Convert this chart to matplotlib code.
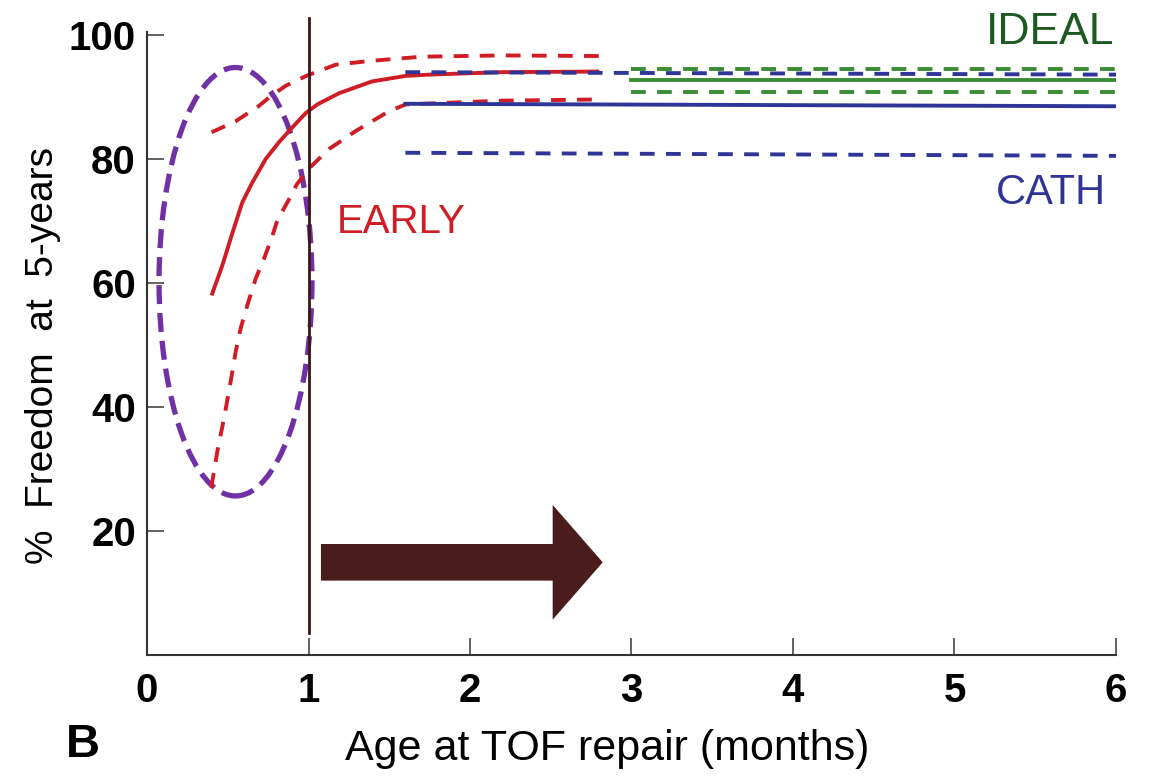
import matplotlib
matplotlib.use("Agg")
import matplotlib.pyplot as plt
from matplotlib.patches import Ellipse, FancyArrow

plt.rcParams['font.family'] = ['Liberation Sans', 'DejaVu Sans']

# ---- data ----
early_x = [0.40, 0.466, 0.528, 0.59, 0.652, 0.735, 0.817, 0.90, 0.983, 1.055, 1.189, 1.393, 1.602, 1.746, 2.2, 2.8]
early_y = [58.0, 62.8, 68.0, 73.0, 76.2, 80.0, 82.7, 85.1, 87.4, 88.8, 90.6, 92.5, 93.4, 93.6, 94.0, 94.1]
early_hi_x = [0.40, 0.55, 0.69, 0.77, 0.859, 0.986, 1.168, 1.375, 1.705, 2.2, 2.8]
early_hi_y = [84.3, 86.1, 88.5, 90.2, 91.8, 93.4, 95.2, 95.8, 96.5, 96.7, 96.6]
early_lo_x = [0.398, 0.436, 0.477, 0.518, 0.549, 0.58, 0.621, 0.673, 0.724, 0.77, 0.807, 0.869, 0.93, 1.02,
              1.127, 1.292, 1.498, 1.602, 2.2, 2.8]
early_lo_y = [27.0, 32.9, 38.2, 44.1, 48.9, 52.7, 56.4, 60.7, 63.9, 67.1, 70.1, 73.0, 76.0, 78.9,
              81.6, 84.5, 87.7, 88.8, 89.4, 89.6]

cath_x = [1.6, 6.0]
cath_y = [88.9, 88.5]
cath_hi_y = [94.0, 93.6]
cath_lo_y = [81.0, 80.5]

ideal_x = [3.0, 6.0]
ideal_y = [92.8, 92.8]
ideal_hi_y = [94.5, 94.5]
ideal_lo_y = [90.8, 90.8]

xticks = [0, 1, 2, 3, 4, 5, 6]
yticks = [20, 40, 60, 80, 100]

red = '#d01c24'
blue = '#2f3596'
green = '#3a8c35'
purple = '#7130a3'
brown = '#3d1616'

fig = plt.figure(figsize=(11.53, 7.77), dpi=100)
ax = fig.add_axes([0.1275, 0.157, 0.8404, 0.802])

lw = 2.8
dash = (0, (3.8, 2.9))
ax.plot(early_x, early_y, color=red, lw=lw, solid_capstyle='butt')
ax.plot(early_hi_x, early_hi_y, color=red, lw=lw, linestyle=dash)
ax.plot(early_lo_x, early_lo_y, color=red, lw=lw, linestyle=dash)

ax.plot(cath_x, cath_y, color=blue, lw=lw)
ax.plot(cath_x, cath_hi_y, color=blue, lw=lw, linestyle=dash)
ax.plot(cath_x, cath_lo_y, color=blue, lw=lw, linestyle=dash)

ax.plot(ideal_x, ideal_y, color=green, lw=lw)
ax.plot(ideal_x, ideal_hi_y, color=green, lw=lw, linestyle=dash)
ax.plot(ideal_x, ideal_lo_y, color=green, lw=lw, linestyle=dash)

# vertical marker at 1 month
ax.plot([1, 1], [3.6, 102.8], color=brown, lw=2.0, clip_on=False)

# ellipse
ell = Ellipse((0.548, 60.2), 0.947, 69.1, fill=False, edgecolor=purple,
              lw=3.8, linestyle=(0, (3.6, 1.7)))
ax.add_patch(ell)

# arrow
arr = FancyArrow(1.077, 14.95, 1.745, 0, width=5.9, head_width=18.5,
                 head_length=0.31, length_includes_head=True,
                 color='#4a1c1c', lw=0)
ax.add_patch(arr)

ax.text(1.176, 69.8, 'EARLY', color=red, fontsize=29, ha='left', va='center')
ax.text(5.99, 100.4, 'IDEAL', color='#1d5a22', fontsize=32, ha='right', va='center')
ax.text(5.94, 74.5, 'CATH', color=blue, fontsize=30, ha='right', va='center')

ax.set_xlim(0, 6)
ax.set_ylim(0, 100.5)
ax.set_xticks(xticks)
ax.set_yticks(yticks)
ax.set_xticklabels([str(t) for t in xticks], fontsize=29, fontweight='bold')
ax.set_yticklabels([str(t) for t in yticks], fontsize=29, fontweight='bold')
ax.tick_params(direction='in', length=12, width=1.3, color='#555555')
ax.tick_params(axis='y', pad=8)
ax.tick_params(axis='x', pad=12)
for s in ['top', 'right']:
    ax.spines[s].set_visible(False)
for s in ['left', 'bottom']:
    ax.spines[s].set_linewidth(1.5)
    ax.spines[s].set_color('#333333')

ax.set_xlabel('Age at TOF repair (months)', fontsize=31)
ax.xaxis.set_label_coords(0.475, -0.118)
ax.set_ylabel('%  Freedom  at  5-years', fontsize=28)
ax.yaxis.set_label_coords(-0.089, 0.48)

fig.text(66 / 1153, 1 - 745 / 777, 'B', fontsize=34, fontweight='bold', ha='left', va='center')

fig.savefig('out.png', dpi=100)
